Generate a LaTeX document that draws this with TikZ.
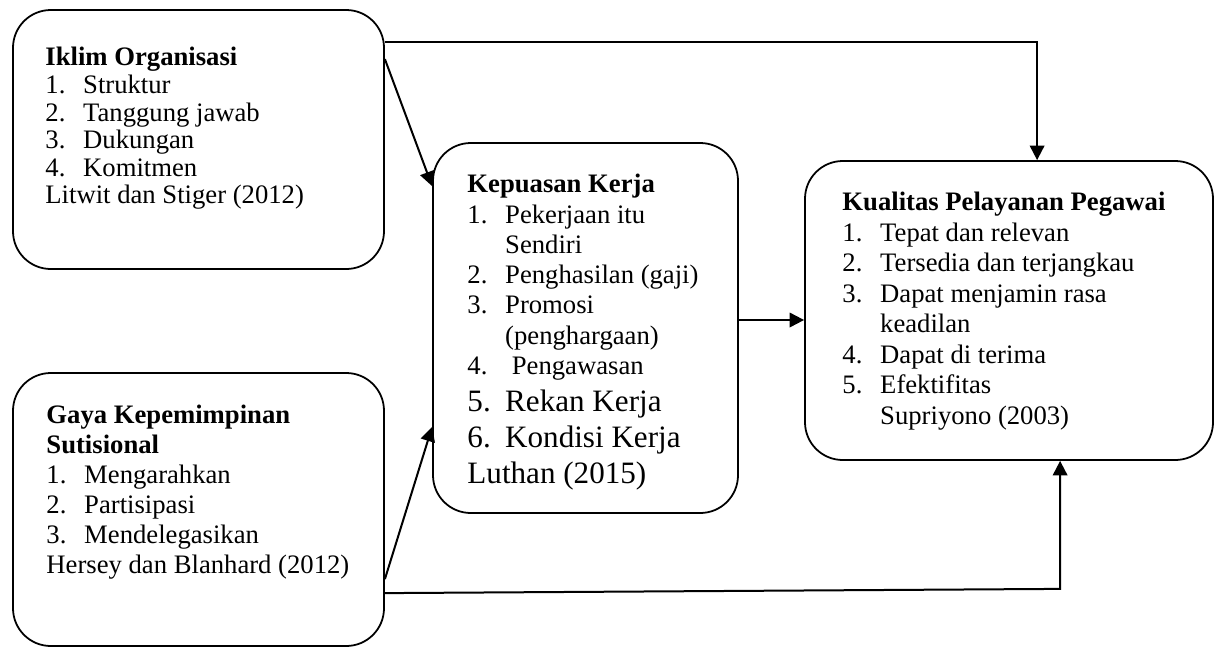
\documentclass[tikz,border=0pt]{standalone}
\usepackage{fontspec}
\setmainfont{Liberation Serif}
\usetikzlibrary{arrows.meta, positioning, calc}

\newcommand{\butir}[2]{\makebox[17pt][l]{#1}#2}

\begin{document}
\begin{tikzpicture}[x=0.45pt, y=-0.45pt,
    kotak/.style={draw, line width=0.8pt, rounded corners=17pt, inner sep=0pt},
    isi/.style={anchor=north west, inner sep=0pt, align=left},
    panah/.style={line width=0.9pt, -{Triangle[length=6.5pt, width=6.5pt]}}]

    \useasboundingbox (0,0) rectangle (1224,648);

    % Kotak variabel
    \node[kotak, minimum width=166.95pt, minimum height=116.55pt] (iklim) at (198.5,139.5) {};
    \node[kotak, minimum width=166.95pt, minimum height=122.85pt] (gaya) at (198.5,509.5) {};
    \node[kotak, minimum width=137.25pt, minimum height=166.5pt] (kepuasan) at (585.5,328) {};
    \node[kotak, minimum width=183.6pt, minimum height=134.55pt] (kualitas) at (1009,310.5) {};

    % Isi kotak
    \node[isi, font=\fontsize{12}{12.4}\selectfont] (iklimteks) at (45,47)
        {\textbf{Iklim Organisasi}\\ \butir{1.}{Struktur}\\ \butir{2.}{Tanggung jawab}\\
         \butir{3.}{Dukungan}\\ \butir{4.}{Komitmen}\\ Litwit dan Stiger (2012)};
    \node[isi, font=\fontsize{12}{13.5}\selectfont] (gayateks) at (46,405)
        {\textbf{Gaya Kepemimpinan}\\ \textbf{Sutisional}\\ \butir{1.}{Mengarahkan}\\
         \butir{2.}{Partisipasi}\\ \butir{3.}{Mendelegasikan}\\ Hersey dan Blanhard (2012)};
    \node[isi, font=\fontsize{12}{13.6}\selectfont] (kepuasanteks) at (467,174)
        {\textbf{Kepuasan Kerja}\\ \butir{1.}{Pekerjaan itu}\\ \butir{}{Sendiri}\\
         \butir{2.}{Penghasilan (gaji)}\\ \butir{3.}{Promosi}\\ \butir{}{(penghargaan)}\\
         \butir{4.}{\hspace{3pt}Pengawasan}};
    \node[isi, font=\fontsize{14}{16.2}\selectfont] (kepuasanbesar) at (467,389)
        {\butir{5.}{Rekan Kerja}\\ \butir{6.}{Kondisi Kerja}\\ Luthan (2015)};
    \node[isi, font=\fontsize{12}{13.7}\selectfont] (kualitasteks) at (842,192)
        {\textbf{Kualitas Pelayanan Pegawai}\\ \butir{1.}{Tepat dan relevan}\\
         \butir{2.}{Tersedia dan terjangkau}\\ \butir{3.}{Dapat menjamin rasa}\\
         \butir{}{keadilan}\\ \butir{4.}{Dapat di terima}\\ \butir{5.}{Efektifitas}\\
         \butir{}{Supriyono (2003)}};

    % Panah
    \draw[panah] ($(iklim.north east)+(0,33)$) -| ($(kualitas.north west)+(233,0)$);
    \draw[panah] ($(iklim.north east)+(0,50)$) -- ($(kepuasan.north west)+(0,44)$);
    \draw[panah] ($(gaya.north east)+(0,207)$) -- ($(kepuasan.south west)+(0,-87)$);
    \draw[panah] ($(gaya.north east)+(0,221)$) -- ($(kualitas.south west)+(256,128)$)
        -- ($(kualitas.south west)+(256,0)$);
    \draw[panah] ($(kepuasan.east)+(0,-8)$) coordinate (tengah) -- (tengah -| kualitas.west);
\end{tikzpicture}
\end{document}
